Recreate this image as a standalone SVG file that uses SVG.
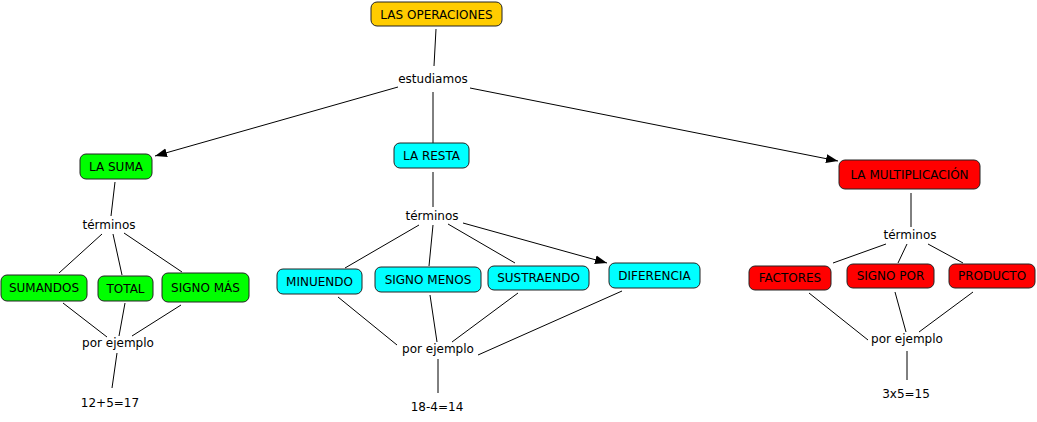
<svg xmlns="http://www.w3.org/2000/svg" width="1037" height="422" viewBox="0 0 1037 422">
<style>
text{font-family:"DejaVu Sans","Verdana",sans-serif;font-size:12px;fill:#000;text-anchor:middle}
.n{stroke:#222;stroke-width:1}
.y{fill:#FFCC00}.g{fill:#00FF00}.c{fill:#00FFFF}.r{fill:#FF0000}
.l{stroke:#000;stroke-width:1;fill:none}
</style>
<defs>
<marker id="ah" markerUnits="userSpaceOnUse" markerWidth="13" markerHeight="10" refX="12" refY="5" orient="auto">
<path d="M0,0.5 L12,5 L0,9.5 z" fill="#000"/>
</marker>
</defs>
<rect width="1037" height="422" fill="#fff"/>
<g id="connectors">
<line class="l" x1="436" y1="29" x2="434" y2="66"/>
<line class="l" x1="433" y1="92" x2="433" y2="143"/>
<line class="l" x1="398" y1="87" x2="155" y2="156" marker-end="url(#ah)"/>
<line class="l" x1="470" y1="88" x2="838" y2="161" marker-end="url(#ah)"/>
<line class="l" x1="115" y1="182" x2="111" y2="216"/>
<line class="l" x1="102" y1="234" x2="59" y2="273"/>
<line class="l" x1="113" y1="234" x2="122" y2="275"/>
<line class="l" x1="124" y1="233" x2="182" y2="272"/>
<line class="l" x1="63" y1="303" x2="107" y2="337"/>
<line class="l" x1="125" y1="303" x2="119" y2="336"/>
<line class="l" x1="181" y1="305" x2="132" y2="336"/>
<line class="l" x1="117" y1="353" x2="112" y2="388"/>
<line class="l" x1="433" y1="172" x2="433" y2="207"/>
<line class="l" x1="419" y1="225" x2="345" y2="268"/>
<line class="l" x1="433" y1="225" x2="429" y2="266"/>
<line class="l" x1="448" y1="224" x2="515" y2="263"/>
<line class="l" x1="463" y1="223" x2="607" y2="263" marker-end="url(#ah)"/>
<line class="l" x1="338" y1="297" x2="397" y2="345"/>
<line class="l" x1="430" y1="295" x2="437" y2="342"/>
<line class="l" x1="518" y1="293" x2="452" y2="342"/>
<line class="l" x1="622" y1="291" x2="478" y2="355"/>
<line class="l" x1="438" y1="359" x2="438" y2="393"/>
<line class="l" x1="911" y1="193" x2="911" y2="227"/>
<line class="l" x1="886" y1="244" x2="833" y2="263"/>
<line class="l" x1="907" y1="244" x2="898" y2="263"/>
<line class="l" x1="928" y1="244" x2="963" y2="263"/>
<line class="l" x1="809" y1="293" x2="868" y2="340"/>
<line class="l" x1="895" y1="292" x2="906" y2="332"/>
<line class="l" x1="973" y1="292" x2="919" y2="332"/>
<line class="l" x1="907" y1="351" x2="907" y2="380"/>
</g>
<g id="operaciones"><rect class="n y" x="371" y="2" width="131" height="24" rx="6"/><text x="436.5" y="18.5">LAS OPERACIONES</text></g>
<g id="estudiamos"><text x="433" y="83">estudiamos</text></g>
<g id="suma"><rect class="n g" x="80" y="154" width="72" height="25" rx="6"/><text x="116" y="171">LA SUMA</text></g>
<g id="resta"><rect class="n c" x="394" y="143" width="75" height="25" rx="6"/><text x="431.5" y="160">LA RESTA</text></g>
<g id="multiplicacion"><rect class="n r" x="839" y="160" width="141" height="29" rx="6"/><text x="909.5" y="179">LA MULTIPLICACIÓN</text></g>
<g id="terminos1"><text x="109" y="229">términos</text></g>
<g id="sumandos"><rect class="n g" x="1" y="275" width="86" height="26" rx="6"/><text x="44" y="292">SUMANDOS</text></g>
<g id="total"><rect class="n g" x="98" y="276" width="55" height="25" rx="6"/><text x="125.5" y="293">TOTAL</text></g>
<g id="signomas"><rect class="n g" x="162" y="273" width="87" height="29" rx="6"/><text x="205.5" y="292">SIGNO MÁS</text></g>
<g id="porejemplo1"><text x="118" y="347">por ejemplo</text></g>
<g id="ejemplo1"><text x="110" y="407">12+5=17</text></g>
<g id="terminos2"><text x="432" y="220">términos</text></g>
<g id="minuendo"><rect class="n c" x="277" y="269" width="85" height="25" rx="6"/><text x="319.5" y="286">MINUENDO</text></g>
<g id="signomenos"><rect class="n c" x="375" y="267" width="106" height="25" rx="6"/><text x="428" y="284">SIGNO MENOS</text></g>
<g id="sustraendo"><rect class="n c" x="488" y="266" width="101" height="24" rx="6"/><text x="538.5" y="282">SUSTRAENDO</text></g>
<g id="diferencia"><rect class="n c" x="609" y="263" width="91" height="25" rx="6"/><text x="654.5" y="280">DIFERENCIA</text></g>
<g id="porejemplo2"><text x="438" y="353">por ejemplo</text></g>
<g id="ejemplo2"><text x="437" y="411">18-4=14</text></g>
<g id="terminos3"><text x="910" y="239">términos</text></g>
<g id="factores"><rect class="n r" x="749" y="266" width="82" height="24" rx="6"/><text x="790" y="282">FACTORES</text></g>
<g id="signopor"><rect class="n r" x="847" y="264" width="87" height="24" rx="6"/><text x="890.5" y="280">SIGNO POR</text></g>
<g id="producto"><rect class="n r" x="949" y="264" width="86" height="24" rx="6"/><text x="992" y="280">PRODUCTO</text></g>
<g id="porejemplo3"><text x="907" y="343">por ejemplo</text></g>
<g id="ejemplo3"><text x="906" y="398">3x5=15</text></g>
</svg>
